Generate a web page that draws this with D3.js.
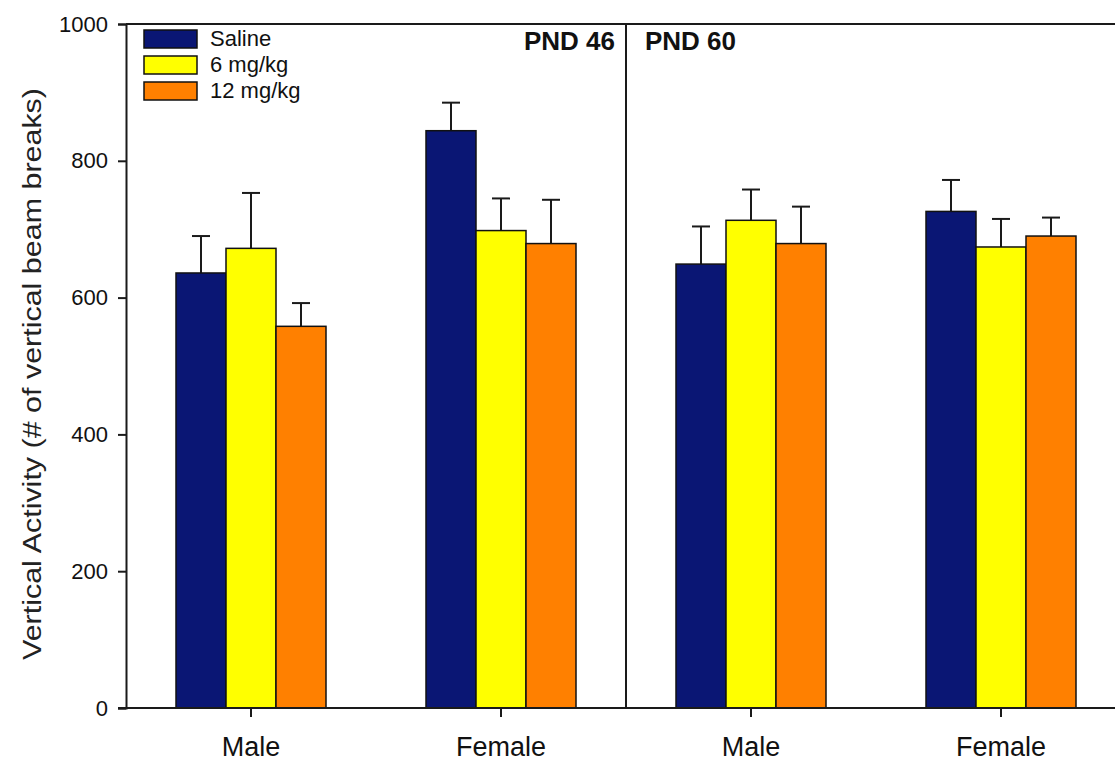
<!DOCTYPE html>
<html>
<head>
<meta charset="utf-8">
<script src="https://cdn.jsdelivr.net/npm/d3@7"></script>
<style>
  html, body { margin: 0; padding: 0; background: #fff; }
  svg { display: block; font-family: "Liberation Sans", Arial, Helvetica, sans-serif; }
</style>
</head>
<body>
<svg id="chart" width="1115" height="761"></svg>
<script>
// ---- data ----
const groups = ["PND46 Male", "PND46 Female", "PND60 Male", "PND60 Female"];
const groupLabels = ["Male", "Female", "Male", "Female"];
const series = ["Saline", "6 mg/kg", "12 mg/kg"];
const salineMean = [636, 844, 649, 726];
const salineErr  = [54, 41, 55, 46];
const mg6Mean    = [672, 698, 713, 674];
const mg6Err     = [81, 47, 45, 41];
const mg12Mean   = [558, 679, 679, 690];
const mg12Err    = [34, 64, 54, 27];
const yTicks = [0, 200, 400, 600, 800, 1000];
const panelLabels = ["PND 46", "PND 60"];
const colors = ["#0a1674", "#ffff00", "#ff8000"];

const means = [salineMean, mg6Mean, mg12Mean];
const errs = [salineErr, mg6Err, mg12Err];

// ---- layout ----
const svg = d3.select("#chart");
const mLeft = 126, mRight = 1126, mTop = 24, mBottom = 708;
const axisColor = "#1a1a1a";

const x = d3.scaleBand().domain(groups).range([mLeft, mRight]).paddingInner(0.4).paddingOuter(0.2);
const xs = d3.scaleBand().domain(series).range([0, x.bandwidth()]);
const y = d3.scaleLinear().domain([0, 1000]).range([mBottom, mTop]);

// bars
const g = svg.append("g");
groups.forEach((grp, gi) => {
  series.forEach((s, si) => {
    const v = means[si][gi], e = errs[si][gi];
    const bx = x(grp) + xs(s);
    const cx = bx + xs.bandwidth() / 2;
    g.append("line")
      .attr("x1", cx).attr("x2", cx)
      .attr("y1", y(v)).attr("y2", y(v + e))
      .attr("stroke", axisColor).attr("stroke-width", 2);
    g.append("line")
      .attr("x1", cx - 9).attr("x2", cx + 9)
      .attr("y1", y(v + e)).attr("y2", y(v + e))
      .attr("stroke", axisColor).attr("stroke-width", 2);
    g.append("rect")
      .attr("x", bx).attr("y", y(v))
      .attr("width", xs.bandwidth()).attr("height", y(0) - y(v))
      .attr("fill", colors[si])
      .attr("stroke", "#111").attr("stroke-width", 1.5);
  });
});

// y axis
const yAxis = d3.axisLeft(y).tickValues(yTicks).tickSize(8).tickPadding(10).tickFormat(d3.format("d"));
const ya = svg.append("g").attr("transform", `translate(${mLeft},0)`).call(yAxis);
ya.select(".domain").attr("stroke", axisColor).attr("stroke-width", 2);
ya.selectAll(".tick line").attr("stroke", axisColor).attr("stroke-width", 2);
ya.selectAll(".tick text").attr("font-size", 22).attr("fill", "#111")
  .attr("font-family", "'Liberation Sans', Arial, sans-serif");

// x axis
const xAxis = d3.axisBottom(x).tickSize(9).tickPadding(20).tickFormat((d, i) => groupLabels[i]);
const xa = svg.append("g").attr("transform", `translate(0,${mBottom})`).call(xAxis);
xa.select(".domain").remove();
xa.append("line").attr("x1", mLeft - 8).attr("x2", 1115).attr("y1", 0).attr("y2", 0)
  .attr("stroke", axisColor).attr("stroke-width", 2);
xa.selectAll(".tick line").attr("stroke", axisColor).attr("stroke-width", 2);
xa.selectAll(".tick text").attr("font-size", 27).attr("fill", "#111")
  .attr("font-family", "'Liberation Sans', Arial, sans-serif");

// top frame line
svg.append("line").attr("x1", mLeft).attr("x2", 1115).attr("y1", mTop).attr("y2", mTop)
  .attr("stroke", axisColor).attr("stroke-width", 2);

// divider between panels
const divX = (x(groups[1]) + x.bandwidth() + x(groups[2])) / 2;
svg.append("line").attr("x1", divX).attr("x2", divX).attr("y1", mTop).attr("y2", mBottom)
  .attr("stroke", axisColor).attr("stroke-width", 2);

// panel labels
svg.append("text").attr("x", divX - 11).attr("y", 50).attr("text-anchor", "end")
  .attr("font-size", 26).attr("font-weight", "bold").attr("fill", "#111").text(panelLabels[0]);
svg.append("text").attr("x", divX + 19).attr("y", 50).attr("text-anchor", "start")
  .attr("font-size", 26).attr("font-weight", "bold").attr("fill", "#111").text(panelLabels[1]);

// y title
svg.append("text")
  .attr("transform", "translate(41,374) rotate(-90)")
  .attr("text-anchor", "middle")
  .attr("font-size", 25).attr("fill", "#222")
  .attr("textLength", 572).attr("lengthAdjust", "spacingAndGlyphs")
  .text("Vertical Activity (# of vertical beam breaks)");

// legend
const lg = svg.append("g").attr("transform", "translate(144,30)");
series.forEach((s, i) => {
  lg.append("rect").attr("x", 0).attr("y", i * 26).attr("width", 53).attr("height", 18)
    .attr("fill", colors[i]).attr("stroke", "#111").attr("stroke-width", 1.5);
  lg.append("text").attr("x", 66).attr("y", i * 26 + 16).attr("font-size", 22)
    .attr("fill", "#111").text(s);
});
</script>
</body>
</html>
